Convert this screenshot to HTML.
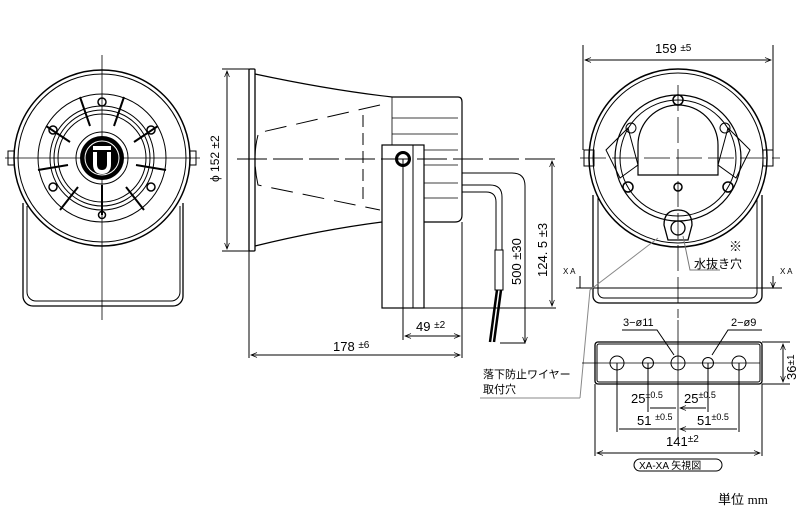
<!DOCTYPE html>
<html><head><meta charset="utf-8"><style>
body{margin:0;background:#fff}
svg{display:block;font-family:"Liberation Sans","Noto Sans CJK JP",sans-serif}
</style></head><body>
<svg width="800" height="517" viewBox="0 0 800 517" xmlns="http://www.w3.org/2000/svg">
<defs>
<marker id="a" viewBox="0 0 10 10" refX="10" refY="5" markerWidth="8" markerHeight="6" orient="auto-start-reverse"><path d="M0,1 L10,5 L0,9" fill="none" stroke="#000" stroke-width="1.2"/></marker>
</defs>
<g fill="none" stroke="#000" stroke-width="1">
<!-- FRONT VIEW -->
<path d="M23,203 V296 a10,10 0 0 0 10,10 H173 a10,10 0 0 0 10,-10 V203" stroke-width="1.3"/>
<path d="M27,206 V292 a9,9 0 0 0 9,9 H171 a9,9 0 0 0 9,-9 V206"/>
<circle cx="102" cy="158" r="88" stroke-width="1.5" fill="#fff"/>
<circle cx="102" cy="158" r="84"/>
<circle cx="102" cy="158" r="64"/>
<circle cx="102" cy="158" r="52"/>
<circle cx="102" cy="158" r="48"/>
<circle cx="102" cy="158" r="44"/>
<circle cx="102" cy="158" r="26"/>
<rect x="8" y="151" width="6" height="14"/><rect x="190" y="151" width="6" height="14"/>
<g stroke-width="2">
<path d="M80,97 L90,126"/><path d="M124,97 L114,126"/>
<path d="M46,126 L70,142"/><path d="M158,126 L134,142"/>
<path d="M38,170 L68,165"/><path d="M166,170 L136,165"/>
<path d="M60,210 L78,187"/><path d="M144,210 L126,187"/>
<path d="M102,185 L102,215"/>
</g>
<circle cx="102" cy="102" r="4" stroke-width="1.5"/><circle cx="102" cy="215" r="3.5" stroke-width="1.5"/>
<circle cx="53" cy="130" r="4" stroke-width="1.5"/><circle cx="151" cy="130" r="4" stroke-width="1.5"/>
<circle cx="53" cy="187" r="4" stroke-width="1.5"/><circle cx="151" cy="187" r="4" stroke-width="1.5"/>
<path d="M102,55 V320 M5,158 H200" stroke-width="0.8"/>
<circle cx="102" cy="158" r="22" fill="#000" stroke="none"/>
<circle cx="102" cy="158" r="17" stroke="#fff" stroke-width="1"/>
<path d="M93,148 H111 M95,152 V164 Q95,172 102,172 Q109,172 109,164 V152" stroke="#fff" stroke-width="4"/>
<!-- SIDE VIEW -->
<rect x="249" y="69" width="6" height="182" rx="1" stroke-width="1.3"/>
<path d="M255,74 Q330,90 392,97 M255,246 Q320,230 382,222" stroke-width="1.2"/>
<path d="M258,135 Q252,158 258,185 L380,210 M380,105 L262,132" stroke-dasharray="22,10"/>
<path d="M363,115 V205" stroke-dasharray="12,6"/>
<path d="M392,97 H458 Q462,97 462,102 V215 Q462,222 455,222 H424" stroke-width="1.2"/>
<path d="M392,97 V145 M392,118 H458 M392,134 H458 M424,150 H458 M424,165 H458 M424,183 H458 M424,198 H458" stroke-width="0.8"/>
<rect x="382" y="145" width="42" height="163" stroke-width="1.2" fill="#fff"/>
<path d="M413,145 V308"/>
<circle cx="403" cy="159" r="6.5" stroke-width="3"/>
<path d="M237,159 H555" stroke-dasharray="30,6"/>
<path d="M403,159 V340"/>
<!-- cables -->
<path d="M462,185 H490 Q502,185 502,197 V250 M462,192 H486 Q496,192 496,202 V250" stroke-width="1"/>
<rect x="495" y="250" width="8" height="40"/>
<path d="M497,290 L490,342 M501,290 L494,342" stroke-width="2.5"/>
<path d="M462,173 H512 Q525,173 525,186 V343 H500"/>
<path d="M525,225 V343" marker-end="url(#a)"/>
<!-- dims side -->
<path d="M222,69 H249 M222,251 H249"/>
<path d="M227,71 V249" marker-start="url(#a)" marker-end="url(#a)"/>
<path d="M424,308 H556 M462,222 V358 M249,251 V358"/>
<path d="M552,161 V306" marker-start="url(#a)" marker-end="url(#a)"/>
<path d="M405,336 H460" marker-start="url(#a)" marker-end="url(#a)"/>
<path d="M251,355 H460" marker-start="url(#a)" marker-end="url(#a)"/>
<!-- REAR VIEW -->
<path d="M593,195 V296 a7,7 0 0 0 7,7 H755 a7,7 0 0 0 7,-7 V195" stroke-width="1.3"/>
<path d="M598,198 V292 a6,6 0 0 0 6,6 H751 a6,6 0 0 0 6,-6 V198"/>
<circle cx="678" cy="158" r="89" stroke-width="1.5"/>
<circle cx="678" cy="158" r="85"/>
<circle cx="678" cy="158" r="63" stroke-width="1.2"/>
<circle cx="678" cy="158" r="58"/>
<path d="M638,175 V145 A40,40 0 0 1 718,145 V175 Z" stroke-width="1.2"/>
<circle cx="678" cy="187" r="4" stroke-width="1.5"/>
<circle cx="678" cy="100" r="5" stroke-width="1.5"/>
<circle cx="631" cy="128" r="5"/><circle cx="725" cy="128" r="5"/>
<circle cx="628" cy="187" r="5" stroke-width="1.5"/><circle cx="728" cy="187" r="5" stroke-width="1.5"/>
<path d="M606,150 L628,128 L638,165 L620,178 Z M750,150 L728,128 L718,165 L736,178 Z"/>
<path d="M664,225 Q664,210 678,210 Q692,210 692,225 L688,240 H668 Z" stroke-width="1.3"/>
<circle cx="678" cy="228" r="7" stroke-width="1.3"/>
<rect x="584" y="150" width="10" height="16"/><rect x="763" y="150" width="10" height="16"/>
<path d="M678,85 V318 M580,158 H780" stroke-dasharray="26,6" stroke-width="0.8"/>
<path d="M583,45 V150 M773,45 V150"/>
<path d="M585,60 H771" marker-start="url(#a)" marker-end="url(#a)"/>
<path d="M576,288 H782"/>
<path d="M580,276 V288 M773,276 V288" marker-end="url(#a)"/>
<path d="M683,236 L690,270 H720" stroke="#777"/>
<path d="M658,238 L590,290 L580,398" stroke="#888"/>
<path d="M480,398 H580" stroke="#888"/>
<!-- BOTTOM VIEW -->
<rect x="595" y="342" width="167" height="42" rx="3" stroke-width="1.3"/>
<rect x="597" y="344" width="163" height="38" rx="2"/>
<circle cx="617" cy="363" r="7"/><circle cx="648" cy="363" r="5.5"/><circle cx="678" cy="363" r="7"/><circle cx="708" cy="363" r="5.5"/><circle cx="739" cy="363" r="7"/>
<path d="M582,363 H760 M678,320 V440" stroke-width="0.8"/>
<path d="M617,363 V432 M648,363 V412 M708,363 V412 M739,363 V432 M595,384 V456 M762,384 V456 M762,342 H790 M762,384 H790"/>
<path d="M650,408 H676 M706,408 H680" marker-end="url(#a)"/>
<path d="M619,429 H676 M737,429 H680" marker-end="url(#a)"/>
<path d="M597,453 H760" marker-start="url(#a)" marker-end="url(#a)"/>
<path d="M783,344 V382" marker-start="url(#a)" marker-end="url(#a)"/>
<path d="M622,330 H657 L674,355 M762,330 H728 L712,355"/>
<rect x="634" y="459" width="88" height="12" rx="6"/>
</g>
<g font-size="12" fill="#000">
<text transform="translate(219,182) rotate(-90)">ϕ 152 ±2</text>
<text transform="translate(547,277) rotate(-90)" font-size="13">124. 5 ±3</text>
<text transform="translate(521,285) rotate(-90)" font-size="13">500 ±30</text>
<text x="416" y="331" font-size="13">49 <tspan font-size="10" dy="-3">±2</tspan></text>
<text x="333" y="351" font-size="13">178 <tspan font-size="10" dy="-3">±6</tspan></text>
<text x="655" y="53" font-size="13">159 <tspan font-size="10" dy="-2">±5</tspan></text>
<text x="729" y="251" font-size="13">※</text>
<text x="694" y="268">水抜き穴</text>
<text x="563" y="274" font-size="8">X A</text>
<text x="780" y="274" font-size="8">X A</text>
<text x="483" y="378" font-size="11">落下防止ワイヤー</text>
<text x="483" y="393" font-size="11">取付穴</text>
<text x="623" y="326" font-size="11">3−ø11</text>
<text x="731" y="326" font-size="11">2−ø9</text>
<text x="631" y="403" font-size="13">25<tspan font-size="9" dy="-5">±0.5</tspan></text>
<text x="684" y="403" font-size="13">25<tspan font-size="9" dy="-5">±0.5</tspan></text>
<text x="637" y="425" font-size="13">51 <tspan font-size="9" dy="-5">±0.5</tspan></text>
<text x="697" y="425" font-size="13">51<tspan font-size="9" dy="-5">±0.5</tspan></text>
<text x="666" y="446" font-size="13">141<tspan font-size="10" dy="-4">±2</tspan></text>
<text transform="translate(796,380) rotate(-90)" font-size="13">36<tspan font-size="10" dy="-2">±1</tspan></text>
<text x="639" y="469" font-size="10">XA-XA 矢視図</text>
<text x="718" y="504" font-size="13">単位 <tspan font-family="Liberation Serif, serif">mm</tspan></text>
</g>
</svg>
</body></html>
